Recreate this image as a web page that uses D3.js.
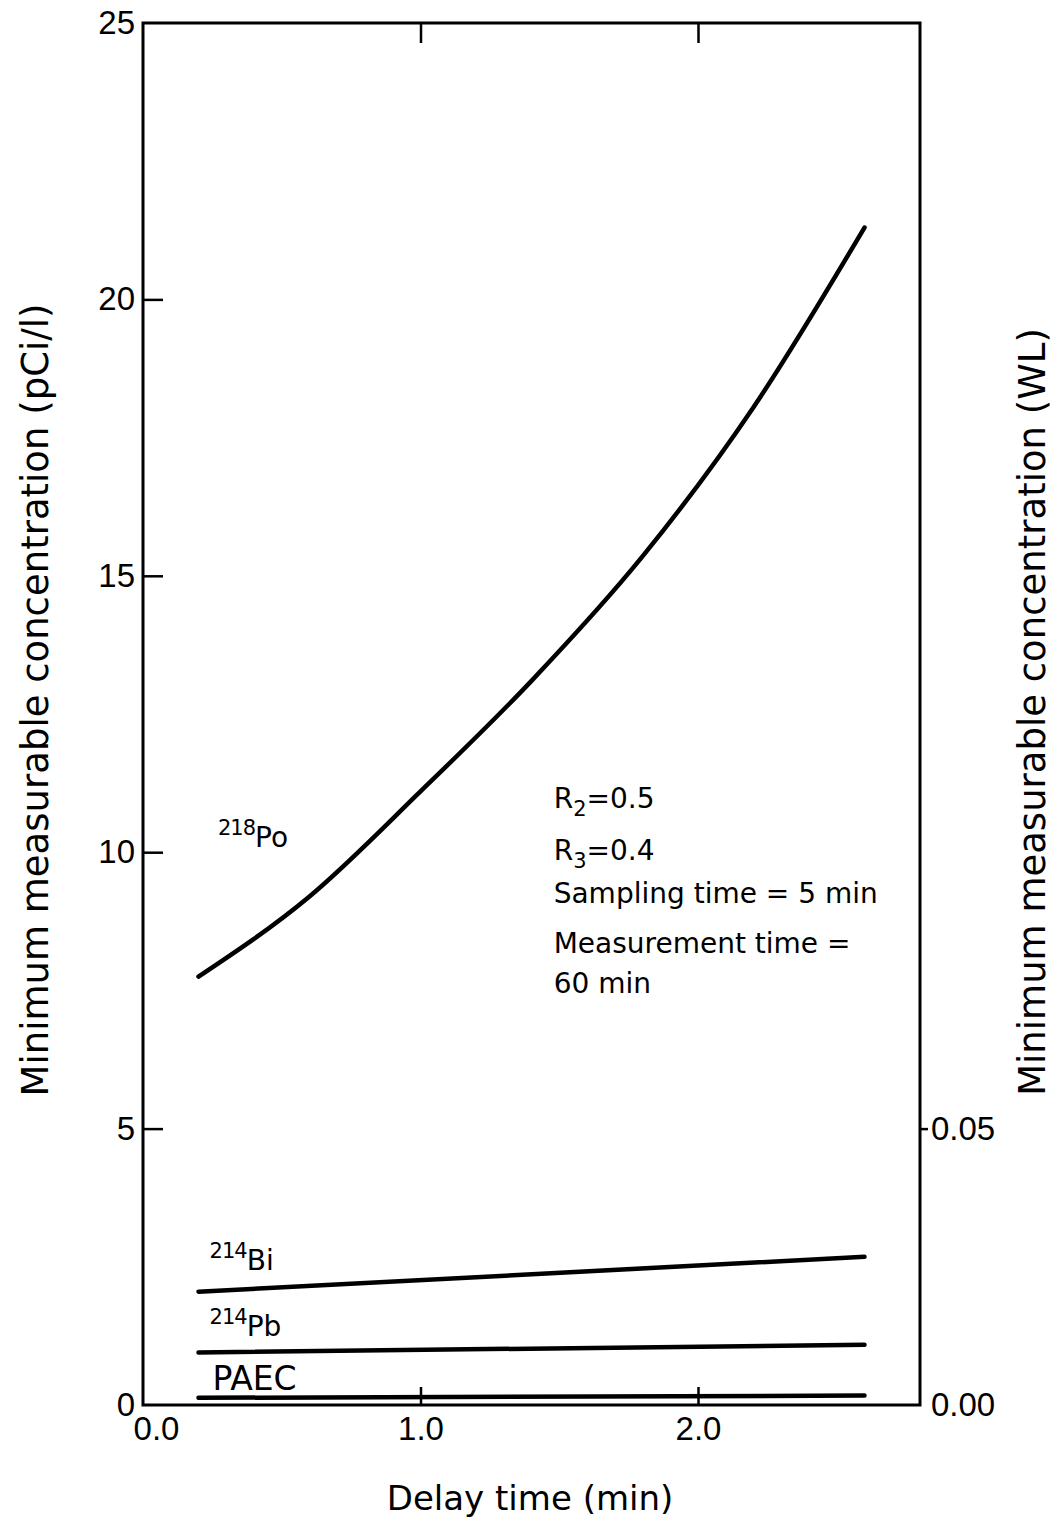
<!DOCTYPE html>
<meta charset="utf-8">
<style>
body { margin: 0; background: #fff; }
svg { font-family: "DejaVu Sans", sans-serif; }
.axis path { display: none; }
.axis line { stroke: #000; stroke-width: 2.5px; }
.axis text { font-size: 33px; fill: #000; }
.curve { fill: none; stroke: #000; stroke-width: 4.5px; stroke-linecap: round; }
.lbl { fill: #000; }
</style>
<body>
<div id="chart"></div>
<script src="https://d3js.org/d3.v7.min.js"></script>
<script>
// delay time (min) and concentrations (pCi/l)
var po218X = [0.2, 0.6, 1.0, 1.4, 1.8, 2.2, 2.6];
var po218Y = [7.75, 9.2, 11.1, 13.1, 15.35, 18.05, 21.3];
var bi214X = [0.2, 2.6];
var bi214Y = [2.05, 2.68];
var pb214X = [0.2, 2.6];
var pb214Y = [0.95, 1.09];
var paecX = [0.2, 2.6];
var paecY = [0.13, 0.17];

var xTicks = [0, 1, 2];
var xTickLabels = ["0.0", "1.0", "2.0"];
var yTicks = [0, 5, 10, 15, 20, 25];
var wlTicks = [0, 0.05];
var notes = ["Sampling time = 5 min", "Measurement time =", "60 min"];
var noteY = [9.08, 8.18, 7.46];

var W = 1060, H = 1531;
var plotL = 143, plotR = 920, plotT = 23, plotB = 1405;

var svg = d3.select("#chart").append("svg")
    .attr("width", W).attr("height", H);

var x = d3.scaleLinear().domain([0, 2.8]).range([plotL, plotR]);
var y = d3.scaleLinear().domain([0, 25]).range([plotB, plotT]);
var yWL = d3.scaleLinear().domain([0, 0.25]).range([plotB, plotT]);

// frame
svg.append("rect")
    .attr("x", plotL).attr("y", plotT)
    .attr("width", plotR - plotL).attr("height", plotB - plotT)
    .attr("fill", "none").attr("stroke", "#000").attr("stroke-width", 3);

// left axis, ticks inward
var gy = svg.append("g").attr("class", "axis")
    .attr("transform", "translate(" + plotL + ",0)")
    .call(d3.axisLeft(y).tickValues(yTicks).tickSize(-20).tickPadding(8).tickFormat(d3.format("d")));
gy.selectAll(".tick").filter(function(d) { return d === 0 || d === 25; }).select("line").remove();

// bottom axis, ticks inward
var gx = svg.append("g").attr("class", "axis")
    .attr("transform", "translate(0," + plotB + ")")
    .call(d3.axisBottom(x).tickValues(xTicks).tickSize(-18).tickPadding(12)
        .tickFormat(function(d, i) { return xTickLabels[i]; }));
gx.selectAll(".tick").filter(function(d) { return d === 0; }).select("line").remove();
gx.selectAll(".tick").filter(function(d) { return d === 0; }).select("text").attr("dx", 13);

// top ticks
svg.append("g").attr("class", "axis")
    .attr("transform", "translate(0," + plotT + ")")
    .call(d3.axisTop(x).tickValues([1, 2]).tickSize(-20).tickFormat(""));

// right axis (WL)
var gr = svg.append("g").attr("class", "axis")
    .attr("transform", "translate(" + plotR + ",0)")
    .call(d3.axisRight(yWL).tickValues(wlTicks).tickSize(8).tickPadding(3).tickFormat(d3.format(".2f")));
gr.selectAll(".tick").filter(function(d) { return d === 0; }).select("line").remove();

// curves
var line = d3.line()
    .x(function(d) { return x(d[0]); })
    .y(function(d) { return y(d[1]); })
    .curve(d3.curveMonotoneX);

function pts(xs, ys) { return xs.map(function(v, i) { return [v, ys[i]]; }); }

[[po218X, po218Y], [bi214X, bi214Y], [pb214X, pb214Y], [paecX, paecY]].forEach(function(s) {
    svg.append("path").attr("class", "curve").attr("d", line(pts(s[0], s[1])));
});

// curve labels
function isoLabel(px, py, mass, sym) {
    var t = svg.append("text").attr("class", "lbl").style("font-size", "28px").attr("x", px).attr("y", py);
    t.append("tspan").text(mass).style("font-size", "21px").attr("letter-spacing", -1).attr("dy", -12);
    t.append("tspan").text(sym).attr("dy", 12);
}
isoLabel(x(0.27), y(10.1), "218", "Po");
isoLabel(x(0.24), y(2.45), "214", "Bi");
isoLabel(x(0.24), y(1.25), "214", "Pb");
svg.append("text").attr("class", "lbl").style("font-size", "33px")
    .attr("x", x(0.25)).attr("y", y(0.27)).text("PAEC");

// parameter notes
var nx = x(1.48);
function rLabel(sub, val, yv) {
    var t = svg.append("text").attr("class", "lbl").style("font-size", "28px").attr("x", nx).attr("y", y(yv));
    t.append("tspan").text("R");
    t.append("tspan").text(sub).style("font-size", "21px").attr("dy", 8);
    t.append("tspan").text("=" + val).attr("dy", -8);
}
rLabel("2", "0.5", 10.8);
rLabel("3", "0.4", 9.85);
notes.forEach(function(s, i) {
    svg.append("text").attr("class", "lbl").style("font-size", "28px")
        .attr("x", nx).attr("y", y(noteY[i])).text(s);
});

// axis titles
svg.append("text").attr("font-size", 37)
    .attr("transform", "translate(48,700) rotate(-90)")
    .attr("text-anchor", "middle").text("Minimum measurable concentration (pCi/l)");
svg.append("text").attr("font-size", 37)
    .attr("transform", "translate(1045,712) rotate(-90)")
    .attr("text-anchor", "middle").text("Minimum measurable concentration (WL)");
svg.append("text").attr("font-size", 34)
    .attr("x", 530).attr("y", 1510)
    .attr("text-anchor", "middle").text("Delay time (min)");
</script>
</body>
